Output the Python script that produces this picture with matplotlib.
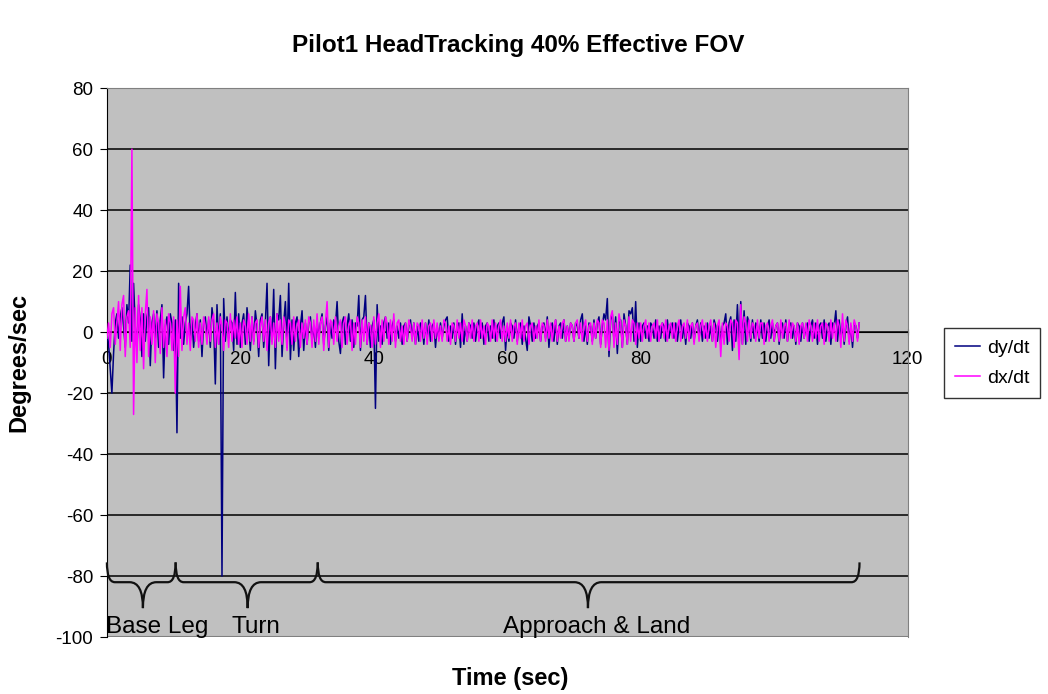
import numpy as np
import matplotlib
matplotlib.use("Agg")
import matplotlib.pyplot as plt
from matplotlib.path import Path
from matplotlib.patches import PathPatch

plt.rcParams["font.family"] = ["Liberation Sans", "DejaVu Sans"]
plt.rcParams["axes.unicode_minus"] = False

# head angular rate, one sample every 0.25 s
SAMPLE_STEP = 0.25

dy_dt = [
    0, -4, -12, -20, -7, 3, 6, -2, 5, 8, 2, -5, 9, 3, 22, -3, 16, 2, -6, 9,
    4, -8, 6, -3, 5, 8, -11, 3, 6, -2, 7, -5, 4, 9, -15, 2, 5, -4, 6, 3,
    -6, 4, -33, 16, -2, 5, -4, 3, 6, 15, -3, 4, -5, 2, 6, -3, 4, -8, 3, 5,
    -2, 4, -5, 8, 3, -17, 9, -4, 6, -80, 11, -3, 5, -2, 4, 3, -6, 13, -4, 6,
    -5, 3, 6, -4, 8, 2, -6, 5, -3, 7, 2, -8, 4, 6, -5, 3, 16, -11, 5, -3,
    14, -12, 6, 4, 12, -8, 3, 10, -5, 16, -9, 4, -6, 3, 5, -8, 2, 7, -6, 3,
    -4, 3, 5, -3, 2, -5, 4, -2, 3, 6, -4, 2, 5, -6, 3, -2, 4, 2, 10, -3,
    -7, 3, 5, -4, 2, 6, -3, 4, -5, 3, 2, 12, -6, 4, 5, 12, -4, 3, -5, 2,
    4, -25, 9, -3, 2, -4, 3, 5, -2, 3, -4, 2, 4, -3, 2, -2, 3, -4, 2, 3,
    -3, 2, 4, -2, 3, -4, 2, -3, 3, 2, -4, 3, -2, 4, -3, 2, 3, -5, 2, -2,
    3, -2, 2, 4, 5, -3, 2, -2, 3, -4, 2, 3, -5, 6, -4, 2, -3, 3, 2, -2,
    3, -3, 2, 4, -2, 3, -4, 2, 3, -3, 2, -2, 4, -3, 2, 3, -2, 3, 5, -6,
    2, -3, 3, 2, -2, 4, -3, 2, 3, -4, 2, -2, -6, 5, 2, -3, 3, -2, 2, 3,
    -3, 2, 3, -2, 5, -5, 2, 3, -3, 4, -4, 2, 3, -2, 4, -3, 2, -2, 3, 2,
    -3, 3, 2, -2, 4, 6, -3, 2, -4, 3, 2, -3, 4, -2, 3, 5, -4, 2, 6, 4,
    11, -8, 4, 6, -3, 5, -7, 3, 4, -5, 6, 2, -4, 7, 6, 8, -3, 10, -5, 3,
    -3, 2, 3, -2, 2, -3, 3, 2, -2, 4, -3, 2, -2, 3, 2, -3, 4, -2, 2, 3,
    -2, 3, -3, 2, 4, -2, 2, -4, 3, 2, -2, 3, -3, 2, 4, -2, 3, -3, 2, -2,
    3, -2, 2, -3, 4, 2, -3, 3, -4, 2, 3, 6, -4, 3, 5, -6, 4, -3, 9, -5,
    10, -4, 7, -4, 5, 3, -3, 4, -2, 3, 2, -3, 4, -2, 3, -3, 2, 4, -2, 3,
    -3, 2, 3, -4, 2, 3, -2, 4, -3, 2, 3, -2, 2, -4, 3, 2, -3, 3, -2, 2,
    3, -3, 2, 4, -2, 3, -4, 2, 3, -2, 4, -3, 2, 3, -4, 3, 2, 7, -3, 4,
    -2, 3, -4, 2, 5, -3, 2, -5, 3, 2, -2, 3,
]

dx_dt = [
    -2, 3, -5, 6, 8, -4, 3, 10, -6, 9, 12, -8, 5, 7, -5, 60, -27, 8, -10, 12,
    -6, 8, -12, 6, 14, -8, 5, -4, 7, -10, 6, 3, -7, 8, -5, 4, -8, 6, 3, -6,
    5, -20, 4, -8, 15, -6, 5, 8, -4, 3, -6, 5, 4, -3, 6, -5, 3, -4, 5, 2,
    -4, 5, -3, 4, 6, -5, 3, -4, 5, 2, -6, 4, 3, -5, 6, -3, 4, -2, 5, -4,
    3, -5, 4, 2, -4, 6, -3, 5, -4, 3, 4, -5, 2, 5, -3, 4, -6, 3, 5, -4,
    3, -5, 6, -3, 4, -4, 5, 2, -6, 4, 3, -4, 5, -3, 2, 4, -5, 3, -2, 4,
    -4, 5, 3, -5, 4, -3, 6, -4, 3, 5, -6, 3, 10, -5, 4, 3, -4, 5, -3, 2,
    4, -5, 3, 5, -4, 2, 4, -6, 3, -4, 5, 3, -5, 4, -3, 5, -4, 3, 2, -5,
    5, -4, 3, 6, -5, 4, -3, 5, 3, -4, 4, -3, 6, -5, 3, 4, -3, 2, -4, 3,
    -3, 4, 2, -3, 3, -4, 3, 2, -3, 4, -2, 3, -4, 2, 3, -3, 4, -2, 3, -3,
    2, -3, 4, 3, -3, 2, -4, 3, 2, -3, 4, -2, 3, -3, 4, 2, -3, 3, -2, 4,
    -3, 2, 3, -3, 4, -2, 2, -4, 3, 2, -3, 4, -2, 3, -3, 2, 4, -3, 2, -3,
    3, -2, 4, -3, 2, 3, -4, 3, -2, 4, -3, 2, 3, -4, 2, 3, -3, 2, -2, 4,
    -3, 3, 2, -3, 4, -2, 3, -3, 2, 4, -3, 2, -2, 3, 4, -3, 2, -3, 3, 2,
    -3, 3, 4, -2, 3, -3, 2, 4, -3, 2, 3, -4, 3, -2, 4, 3, -5, 4, 3, -5,
    4, -6, 5, 7, -5, 3, -4, 6, 3, -5, 4, 2, -4, 5, -3, 4, 3, -4, 3, -2,
    3, -3, 2, 4, -2, 3, -3, 2, 3, -2, 4, -3, 2, 3, -2, 4, -3, 2, 3, -2,
    3, -3, 2, 4, -3, 2, 3, -2, 4, -3, 2, 3, -4, 2, 3, -3, 2, 4, -2, 3,
    -3, 2, 4, -3, 3, -5, 2, 4, -8, 3, -4, 3, 2, -3, 4, 3, -5, 4, 3, -9,
    9, -4, 5, 3, -3, 4, -2, 3, 2, -3, 4, -2, 3, 3, -4, 2, 3, -3, 2, 4,
    -3, 2, 3, -3, 4, -2, 2, 3, -3, 4, -2, 3, 2, -3, 3, -4, 2, 3, -2, 3,
    -3, 4, 2, -3, 3, -2, 4, -3, 2, 3, -4, 3, 2, -3, 4, -2, 3, -3, 4, 2,
    -5, 6, -3, 4, 2, -4, 3, -3, 4, 2, -3, 3,
]

# flight phases marked with braces under the trace (seconds)
phase_names = ["Base Leg", "Turn", "Approach & Land"]
phase_start = [0.0, 10.3, 31.6]
phase_end = [10.3, 31.6, 112.8]
phase_tip = [5.4, 21.1, 72.1]
phase_label_x = [7.5, 22.3, 73.4]


def brace(ax, x0, x1, xm, y_top=-75.5, y_base=-82.0, y_tip=-90.5,
          r_end=1.2, r_mid=2.0):
    verts = [
        (x0, y_top), (x0, y_base), (x0 + r_end, y_base),
        (xm - r_mid, y_base),
        (xm, y_base), (xm, y_tip),
        (xm, y_base), (xm + r_mid, y_base),
        (x1 - r_end, y_base),
        (x1, y_base), (x1, y_top),
    ]
    codes = [Path.MOVETO, Path.CURVE3, Path.CURVE3, Path.LINETO,
             Path.CURVE3, Path.CURVE3, Path.CURVE3, Path.CURVE3,
             Path.LINETO, Path.CURVE3, Path.CURVE3]
    ax.add_patch(PathPatch(Path(verts, codes), fill=False, lw=1.6,
                           edgecolor="#111111", zorder=4, clip_on=False))


def main():
    dy = np.asarray(dy_dt, dtype=float)
    dx = np.asarray(dx_dt, dtype=float)
    t_dy = np.arange(dy.size) * SAMPLE_STEP
    t_dx = np.arange(dx.size) * SAMPLE_STEP

    fig = plt.figure(figsize=(10.48, 6.94), dpi=100)
    ax = fig.add_axes([0.102, 0.082, 0.764, 0.791])
    ax.set_facecolor("#c0c0c0")

    l1, = ax.plot(t_dy, dy, color="#000080", lw=1.1, zorder=3)
    l2, = ax.plot(t_dx, dx, color="#ff00ff", lw=1.1, zorder=3)

    ax.set_xlim(0, 120)
    ax.set_ylim(-100, 80)
    ax.set_yticks(np.arange(-100, 81, 20))
    ax.set_xticks(np.arange(0, 121, 20))
    for y in np.arange(-80, 81, 20):
        ax.axhline(y, color="black", lw=1.1, zorder=1)

    ax.spines["bottom"].set_position(("data", 0))
    ax.spines["bottom"].set_color("black")
    ax.spines["bottom"].set_zorder(2)
    ax.spines["left"].set_color("black")
    for side in ("top", "right"):
        ax.spines[side].set_color("#808080")
    ax.tick_params(axis="y", direction="out", length=5, labelsize=13.5,
                   pad=5)
    ax.tick_params(axis="x", direction="inout", length=5, labelsize=13.5,
                   pad=11)
    # border along the bottom of the plot area
    ax.axhline(-100, color="#808080", lw=1.5, zorder=1)

    for name, x0, x1, xm, xl in zip(phase_names, phase_start, phase_end,
                                    phase_tip, phase_label_x):
        brace(ax, x0, x1, xm)
        ax.text(xl, -96.8, name, ha="center", va="center", fontsize=17.5,
                zorder=5)

    fig.text(0.494, 0.934, "Pilot1 HeadTracking 40% Effective FOV",
             ha="center", va="center", fontsize=17.5, weight="bold")
    fig.text(0.018, 0.478, "Degrees/sec", rotation=90, ha="center",
             va="center", fontsize=17, weight="bold")
    fig.text(0.487, 0.022, "Time (sec)", ha="center", va="center",
             fontsize=17, weight="bold")

    fig.legend([l1, l2], ["dy/dt", "dx/dt"], loc="center left",
               bbox_to_anchor=(0.901, 0.477), fontsize=14, frameon=True,
               fancybox=False, edgecolor="black", handlelength=1.3,
               handletextpad=0.35, borderpad=0.55, labelspacing=0.65,
               borderaxespad=0.0)

    fig.savefig("out.png", dpi=100)
    plt.close(fig)


if __name__ == "__main__":
    main()
